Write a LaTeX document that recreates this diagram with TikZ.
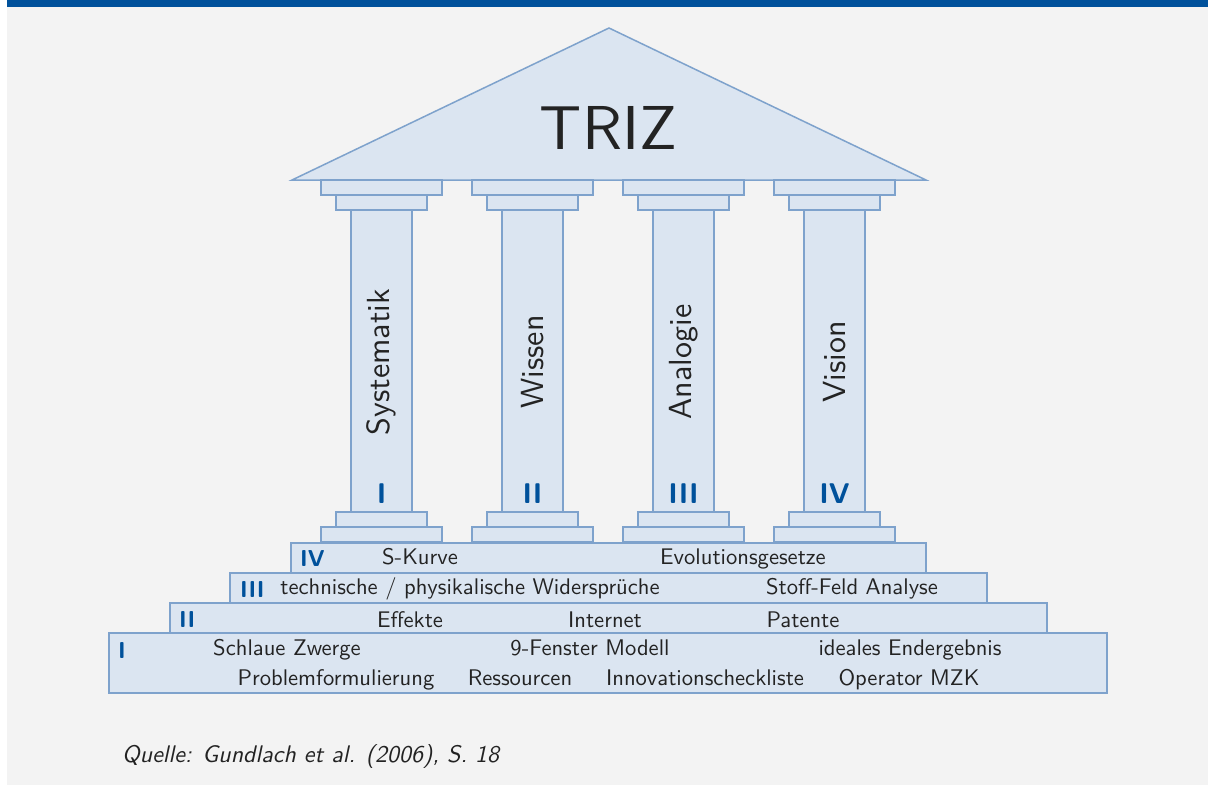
\documentclass[tikz,border=0pt]{standalone}
\usepackage{fontspec}
\setsansfont{lmsans10-regular}[Extension=.otf,BoldFont=lmsans10-bold,ItalicFont=lmsans10-oblique]
\usepackage{tikz}

\definecolor{barblue}{RGB}{0,81,155}
\definecolor{bggray}{RGB}{243,243,243}
\definecolor{partfill}{RGB}{219,229,241}
\definecolor{partline}{RGB}{126,162,204}
\definecolor{textgray}{RGB}{35,35,35}

\tikzset{
  part/.style={fill=partfill,draw=partline,line width=1.5pt},
  lbl/.style={font=\sffamily\fontsize{22.6}{24}\selectfont,text=textgray,anchor=base,inner sep=0pt},
  stepnum/.style={font=\sffamily\bfseries\fontsize{23}{24}\selectfont,text=barblue,anchor=base west,inner sep=0pt},
  colnum/.style={font=\sffamily\bfseries\fontsize{28.5}{30}\selectfont,text=barblue,anchor=base,inner sep=0pt},
  collbl/.style={font=\sffamily\fontsize{32}{34}\selectfont,text=textgray,rotate=90,inner sep=0pt}
}

\begin{document}
\begin{tikzpicture}[x=1pt,y=-1pt]
\useasboundingbox (0,0) rectangle (1208,785);
\fill[bggray] (7,7) rectangle (1208,785);
\fill[barblue] (7,0) rectangle (1208,7);

% roof
\draw[part] (292,180) -- (609,28) -- (926,180) -- cycle;
\node[font=\sffamily\fontsize{62}{64}\selectfont,text=textgray,anchor=base,inner sep=0pt] (triz) at (608.5,149) {TRIZ};

% the four pillars
\foreach \x/\name/\num in {381.5/Systematik/I,532.5/Wissen/II,683.5/Analogie/III,834.5/Vision/IV}{
  \draw[part] (\x-60.5,180) rectangle (\x+60.5,195);
  \draw[part] (\x-45.5,195) rectangle (\x+45.5,210);
  \draw[part] (\x-30.5,210) rectangle (\x+30.5,512);
  \draw[part] (\x-45.5,512) rectangle (\x+45.5,527);
  \draw[part] (\x-60.5,527) rectangle (\x+60.5,542);
  \node[collbl] (col\num) at (\x,362) {\name};
  \node[colnum] (num\num) at (\x,503) {\num};
}

% steps
\draw[part] (109,633) rectangle (1107,693);
\draw[part] (170,603) rectangle (1047,633);
\draw[part] (230,573) rectangle (987,603);
\draw[part] (291,543) rectangle (926,573);

\node[stepnum] (stepIV) at (300,566) {IV};
\node[lbl] (skurve) at (420,564) {S-Kurve};
\node[lbl] (evol) at (743,564) {Evolutionsgesetze};

\node[stepnum] (stepIII) at (240,597) {III};
\node[lbl] (wider) at (470,594) {technische / physikalische Widersprüche};
\node[lbl] (stoff) at (852,594) {Stoff-Feld Analyse};

\node[stepnum] (stepII) at (179,627) {II};
\node[lbl] (effekte) at (410,627) {Effekte};
\node[lbl] (internet) at (605,627) {Internet};
\node[lbl] (patente) at (803,627) {Patente};

\node[stepnum] (stepI) at (118,658) {I};
\node[lbl] (zwerge) at (287,655) {Schlaue Zwerge};
\node[lbl] (fenster) at (590,655) {9-Fenster Modell};
\node[lbl] (ideal) at (910,655) {ideales Endergebnis};
\node[lbl] (problem) at (336,685) {Problemformulierung};
\node[lbl] (ressourcen) at (520,685) {Ressourcen};
\node[lbl] (check) at (705,685) {Innovationscheckliste};
\node[lbl] (mzk) at (909,685) {Operator MZK};

\node[font=\sffamily\itshape\fontsize{24}{26}\selectfont,text=textgray,anchor=base west,inner sep=0pt] (quelle) at (122,762) {Quelle: Gundlach et al. (2006), S. 18};
\end{tikzpicture}
\end{document}
